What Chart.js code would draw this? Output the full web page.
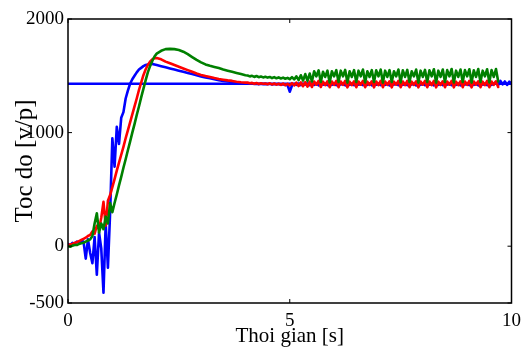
<!DOCTYPE html>
<html>
<head>
<meta charset="utf-8">
<script src="https://cdn.jsdelivr.net/npm/chart.js@4.4.1/dist/chart.umd.min.js"></script>
<style>
html, body { margin: 0; padding: 0; background: #fff; }
</style>
</head>
<body>
<canvas id="chart" width="528" height="358"></canvas>
<script>
// time [s]: 0.05 s steps in the start, 0.1 s in the overshoot, 0.05 s in steady state
const time = [
  0, 0.05, 0.1, 0.15, 0.2, 0.25, 0.3, 0.35, 0.4, 0.45,
  0.5, 0.55, 0.6, 0.65, 0.7, 0.75, 0.8, 0.85, 0.9, 0.95,
  1, 1.05, 1.1, 1.15, 1.2, 1.25, 1.3, 1.35, 1.4, 1.45,
  1.5, 1.55, 1.6, 1.65, 1.7, 1.75, 1.8, 1.85, 1.9, 1.95,
  2,
  2.1, 2.2, 2.3, 2.4, 2.5, 2.6, 2.7, 2.8, 2.9, 3,
  3.1, 3.2, 3.3, 3.4, 3.5, 3.6, 3.7, 3.8, 3.9, 4,
  4.05, 4.1, 4.15, 4.2, 4.25, 4.3, 4.35, 4.4, 4.45, 4.5,
  4.55, 4.6, 4.65, 4.7, 4.75, 4.8, 4.85, 4.9, 4.95, 5,
  5.05, 5.1, 5.15, 5.2, 5.25, 5.3, 5.35, 5.4, 5.45, 5.5,
  5.55, 5.6, 5.65, 5.7, 5.75, 5.8, 5.85, 5.9, 5.95, 6,
  6.05, 6.1, 6.15, 6.2, 6.25, 6.3, 6.35, 6.4, 6.45, 6.5,
  6.55, 6.6, 6.65, 6.7, 6.75, 6.8, 6.85, 6.9, 6.95, 7,
  7.05, 7.1, 7.15, 7.2, 7.25, 7.3, 7.35, 7.4, 7.45, 7.5,
  7.55, 7.6, 7.65, 7.7, 7.75, 7.8, 7.85, 7.9, 7.95, 8,
  8.05, 8.1, 8.15, 8.2, 8.25, 8.3, 8.35, 8.4, 8.45, 8.5,
  8.55, 8.6, 8.65, 8.7, 8.75, 8.8, 8.85, 8.9, 8.95, 9,
  9.05, 9.1, 9.15, 9.2, 9.25, 9.3, 9.35, 9.4, 9.45, 9.5,
  9.55, 9.6, 9.65, 9.7, 9.75, 9.8, 9.85, 9.9, 9.95, 10
];

// speed reference [v/p]
const refTime = [0, 10];
const refSpeed = [1430, 1430];

const speedBlue = [
  20, 10, 30, 20, 40, 30, 50, 40, -110, 60,
  -60, -150, 80, -250, 120, -20, -410, 200, -190, 300,
  950, 700, 1050, 900, 1130, 1180, 1300, 1370, 1430, 1470,
  1500, 1530, 1555, 1570, 1585, 1595, 1600, 1605, 1605, 1600,
  1595,
  1585, 1575, 1565, 1555, 1545, 1535, 1525, 1515, 1505, 1495,
  1485, 1478, 1470, 1462, 1455, 1450, 1445, 1440, 1437, 1435,
  1434, 1430, 1432, 1428, 1431, 1426, 1430, 1427, 1429, 1425,
  1430, 1424, 1428, 1425, 1427, 1422, 1426, 1420, 1418, 1360,
  1415, 1428, 1420, 1430, 1418, 1428, 1422, 1432, 1418, 1430,
  1420, 1432, 1416, 1430, 1422, 1428, 1418, 1432, 1420, 1430,
  1418, 1430, 1422, 1432, 1416, 1428, 1420, 1430, 1418, 1432,
  1422, 1428, 1418, 1430, 1420, 1432, 1416, 1430, 1422, 1428,
  1418, 1432, 1420, 1430, 1416, 1428, 1422, 1432, 1418, 1430,
  1420, 1428, 1418, 1432, 1422, 1430, 1416, 1428, 1420, 1432,
  1418, 1430, 1422, 1428, 1416, 1432, 1420, 1430, 1418, 1428,
  1422, 1432, 1418, 1430, 1420, 1428, 1416, 1432, 1422, 1430,
  1418, 1428, 1420, 1432, 1416, 1430, 1422, 1428, 1418, 1432,
  1420, 1430, 1445, 1418, 1455, 1425, 1450, 1420, 1448, 1435
];

const speedRed = [
  10, 15, 20, 30, 35, 45, 55, 65, 75, 90,
  100, 130, 110, 180, 150, 250, 390, 180, 400, 450,
  520, 590, 665, 735, 805, 875, 950, 1020, 1090, 1160,
  1230, 1300, 1375, 1440, 1505, 1555, 1595, 1625, 1645, 1655,
  1657,
  1645, 1625, 1610, 1595, 1580, 1565, 1550, 1535, 1520, 1508,
  1498, 1490, 1480, 1472, 1466, 1460, 1455, 1448, 1443, 1440,
  1440, 1435, 1438, 1430, 1436, 1428, 1434, 1430, 1432, 1426,
  1434, 1424, 1432, 1422, 1430, 1420, 1432, 1418, 1430, 1415,
  1435, 1415, 1440, 1410, 1442, 1408, 1445, 1405, 1448, 1402,
  1450, 1422, 1455, 1402, 1448, 1418, 1452, 1400, 1450, 1420,
  1455, 1400, 1450, 1420, 1455, 1398, 1448, 1418, 1452, 1400,
  1450, 1422, 1455, 1400, 1448, 1420, 1452, 1398, 1450, 1418,
  1455, 1400, 1450, 1420, 1452, 1398, 1448, 1422, 1455, 1400,
  1450, 1418, 1455, 1400, 1448, 1420, 1452, 1398, 1450, 1422,
  1455, 1400, 1450, 1418, 1455, 1398, 1448, 1420, 1452, 1400,
  1450, 1422, 1455, 1398, 1448, 1418, 1452, 1400, 1450, 1420,
  1455, 1398, 1450, 1422, 1452, 1400, 1448, 1418, 1455, 1400,
  1450, 1420, 1452, 1402
];

const speedGreen = [
  0, -5, 5, 10, 10, 20, 25, 30, 40, 50,
  60, 90, 200, 290, 120, 200, 150, 260, 200, 380,
  300, 380, 455, 535, 610, 690, 765, 845, 920, 1000,
  1075, 1155, 1230, 1310, 1385, 1460, 1530, 1585, 1630, 1670,
  1695,
  1720, 1735, 1737, 1735, 1727, 1712, 1690, 1665, 1640, 1618,
  1600, 1588, 1578, 1568, 1555, 1545, 1535, 1525, 1515, 1505,
  1502, 1495, 1500, 1490, 1498, 1488, 1494, 1486, 1492, 1484,
  1490, 1480, 1488, 1478, 1486, 1476, 1484, 1474, 1482, 1470,
  1488, 1468, 1495, 1462, 1505, 1458, 1515, 1455, 1520, 1450,
  1540, 1495, 1548, 1445, 1535, 1490, 1545, 1442, 1540, 1495,
  1550, 1445, 1545, 1495, 1552, 1440, 1540, 1490, 1550, 1445,
  1545, 1495, 1555, 1442, 1540, 1490, 1550, 1445, 1548, 1495,
  1555, 1440, 1545, 1490, 1550, 1445, 1540, 1495, 1555, 1442,
  1548, 1490, 1552, 1445, 1540, 1495, 1555, 1440, 1545, 1490,
  1552, 1445, 1548, 1495, 1558, 1440, 1545, 1490, 1555, 1445,
  1550, 1495, 1560, 1442, 1545, 1490, 1555, 1445, 1550, 1495,
  1558, 1440, 1548, 1490, 1560, 1445, 1545, 1495, 1558, 1442,
  1550, 1490, 1560, 1450
];

const xTicks = [0, 5, 10];
const yTicks = [-500, 0, 1000, 2000];

let pts = (xs, ys) => ys.map((v, i) => ({x: xs[i], y: v}));

let line = (label, color, data) => ({
  label: label,
  data: data,
  borderColor: color,
  backgroundColor: color,
  borderWidth: 2.6,
  borderJoinStyle: 'round',
  borderCapStyle: 'round',
  pointRadius: 0,
  tension: 0,
  fill: false,
});

// box round the plot + MATLAB style inward ticks
const frame = {
  id: 'frame',
  afterDatasetsDraw(chart) {
    let {ctx, chartArea: a, scales} = chart;
    ctx.save();
    ctx.strokeStyle = '#000';
    ctx.lineWidth = 1.5;
    ctx.strokeRect(a.left, a.top, a.right - a.left, a.bottom - a.top);
    ctx.lineWidth = 1;
    ctx.beginPath();
    scales.x.ticks.forEach(t => {
      let px = scales.x.getPixelForValue(t.value);
      ctx.moveTo(px, a.bottom); ctx.lineTo(px, a.bottom - 4);
      ctx.moveTo(px, a.top); ctx.lineTo(px, a.top + 4);
    });
    scales.y.ticks.forEach(t => {
      let py = scales.y.getPixelForValue(t.value);
      ctx.moveTo(a.left, py); ctx.lineTo(a.left + 4, py);
      ctx.moveTo(a.right, py); ctx.lineTo(a.right - 4, py);
    });
    ctx.stroke();
    ctx.restore();
  }
};

const serif = "'Liberation Serif', 'Times New Roman', serif";

let ctx = document.getElementById('chart').getContext('2d');
let chart = new Chart(ctx, {
  type: 'line',
  data: {
    datasets: [
      line('green', 'rgb(0, 128, 0)', pts(time, speedGreen)),
      line('red', 'rgb(255, 0, 0)', pts(time, speedRed)),
      line('blue', 'rgb(0, 0, 255)', pts(time, speedBlue)),
      line('ref', 'rgb(0, 0, 255)', pts(refTime, refSpeed)),
    ],
  },
  options: {
    responsive: false,
    animation: false,
    layout: { padding: { top: 19, right: 12, left: 0, bottom: 0 } },
    plugins: { legend: { display: false }, tooltip: { enabled: false } },
    scales: {
      x: {
        type: 'linear',
        min: 0,
        max: 10,
        afterBuildTicks: s => { s.ticks = xTicks.map(v => ({value: v})); },
        afterFit: s => { s.height = 55; },
        grid: { display: false, drawTicks: false },
        border: { display: false },
        ticks: {
          color: '#000', padding: 7, maxRotation: 0,
          font: { family: serif, size: 19 },
          callback: v => String(v),
        },
        title: {
          display: true,
          text: 'Thoi gian [s]',
          color: '#000',
          font: { family: serif, size: 21 },
          padding: { top: 0, bottom: 9 },
        },
      },
      y: {
        min: -500,
        max: 2000,
        afterBuildTicks: s => { s.ticks = yTicks.map(v => ({value: v})); },
        afterFit: s => { s.width = 68; },
        grid: { display: false, drawTicks: false },
        border: { display: false },
        ticks: {
          color: '#000', padding: 4,
          font: { family: serif, size: 19 },
          callback: v => String(v),
        },
        title: {
          display: true,
          text: 'Toc do [v/p]',
          color: '#000',
          font: { family: serif, size: 25 },
          padding: { top: 10, bottom: 0 },
        },
      },
    },
  },
  plugins: [frame],
});
</script>
</body>
</html>
